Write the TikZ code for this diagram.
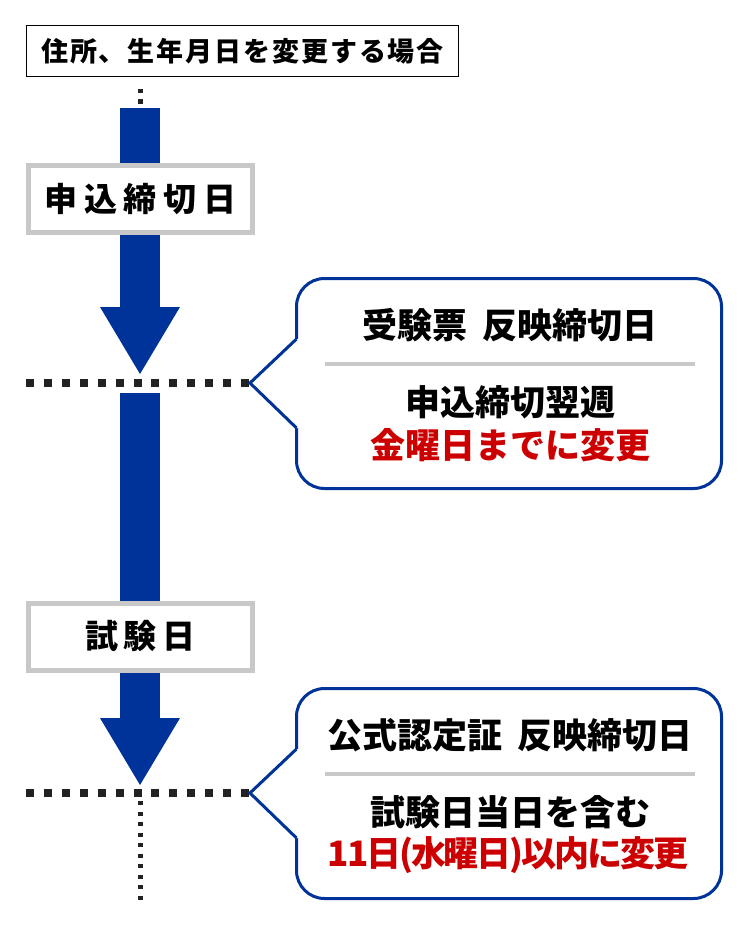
\documentclass[tikz,border=0pt]{standalone}
\usepackage{fontspec}
\newfontfamily\jp{Noto Sans CJK JP}
\usetikzlibrary{arrows.meta, % for the big flow arrows
                backgrounds,
                calc, %for the callout pointers
                positioning}
\definecolor{navy}{HTML}{003399}
\definecolor{boxgray}{HTML}{C8C8C8}
\definecolor{notered}{HTML}{CC0000}
\definecolor{dotblack}{HTML}{222222}

\begin{document}
\begin{tikzpicture}[x=1pt, y=-1pt,
                    every node/.style={font=\jp\bfseries},
                    TitleBox/.style={draw=black, line width=1.5pt, fill=white, inner sep=0pt,
                                     minimum width=432pt, minimum height=51pt,
                                     font=\jp\bfseries\fontsize{27}{32}\selectfont\addfontfeature{LetterSpace=7}},
                    StepBox/.style={draw=boxgray, line width=5pt, fill=white, inner sep=0pt,
                                    minimum width=224pt, minimum height=67pt},
                    Note/.style={draw=navy, line width=3pt, fill=white, rounded corners=28pt,
                                 minimum width=425pt, minimum height=210pt},
                    NoteText/.style={font=\jp\bfseries\fontsize{35}{42}\selectfont},
                    Flow/.style={navy, line width=40pt, -{Triangle[length=67pt, width=80pt, line width=0pt]}},
                    Dots/.style={dotblack, line width=8pt, dash pattern=on 8pt off 9.92pt},
                    SmallDots/.style={dotblack, line width=4.3pt, dash pattern=on 4.3pt off 6.2pt}
                    ]
    \useasboundingbox (0,0) rectangle (750,925);

    % TITLE %
    \node[TitleBox] (title) at (242.5,51) {住所、生年月日を変更する場合};
    \coordinate (top0) at (140.5,89);
    \coordinate (top1) at (140.5,104);
    \draw[SmallDots] (top0) -- (top1);

    % STEPS %
    \node[StepBox, font=\jp\bfseries\fontsize{33}{40}\selectfont\addfontfeature{LetterSpace=21}] (apply) at (140.5,199) {申込締切日};
    \node[StepBox, font=\jp\bfseries\fontsize{33}{40}\selectfont\addfontfeature{LetterSpace=16}] (exam) at (140.5,636.5) {試験日};

    % FLOW ARROWS %
    \coordinate (flow1s) at (140,108);
    \coordinate (flow1e) at (140,374);
    \coordinate (flow2s) at (140,393);
    \coordinate (flow2e) at (140,785);
    \begin{scope}[on background layer]
    \draw[Flow] (flow1s) -- (flow1e);
    \draw[Flow] (flow2s) -- (flow2e);
    \end{scope}

    % DEADLINE LINES %
    \coordinate (line1w) at (26,383);
    \coordinate (line1e) at (249,383);
    \coordinate (line2w) at (26,793);
    \coordinate (line2e) at (249,793);
    \draw[Dots] (line1w) -- (line1e);
    \draw[Dots] (line2w) -- (line2e);
    \coordinate (bot0) at (140.5,801);
    \coordinate (bot1) at (140.5,900);
    \draw[SmallDots] (bot0) -- (bot1);

    % CALLOUTS %
    \node[Note] (note1) at (509,383.5) {};
    \node[Note] (note2) at (509,793.5) {};
    \foreach \n in {1,2}{
    \coordinate (tip\n) at ($(line\n e)+(1,0)$);
    \fill[white] ($(note\n.west)+(0,-44.5)$) -- (tip\n) -- ($(note\n.west)+(0,44.5)$)
        -- ($(note\n.west)+(5,44.5)$) -- ($(note\n.west)+(5,-44.5)$) -- cycle;
    \draw[navy, line width=3pt] ($(note\n.west)+(1.5,-44.5)$) -- (tip\n) -- ($(note\n.west)+(1.5,44.5)$);
    \draw[boxgray, line width=4pt] ($(note\n.center)+(-184,-19.5)$) -- ($(note\n.center)+(186,-19.5)$);
    }

    \node[NoteText] (note1head) at ($(note1.center)+(1,-58.5)$) {受験票\hspace{.45em}反映締切日};
    \node[NoteText] (note1a) at ($(note1.center)+(1,18.5)$) {申込締切翌週};
    \node[NoteText, notered] (note1b) at ($(note1.center)+(1,61.5)$) {金曜日までに変更};

    \node[NoteText] (note2head) at ($(note2.center)+(1,-58.5)$) {公式認定証\hspace{.45em}反映締切日};
    \node[NoteText] (note2a) at ($(note2.center)+(1,18.5)$) {試験日当日を含む};
    \node[NoteText, notered, font=\jp\bfseries\fontsize{35}{42}\selectfont\addfontfeature{LetterSpace=-6}] (note2b) at ($(note2.center)+(-1,61.5)$) {11日(水曜日)以内に変更};

\end{tikzpicture}
\end{document}
